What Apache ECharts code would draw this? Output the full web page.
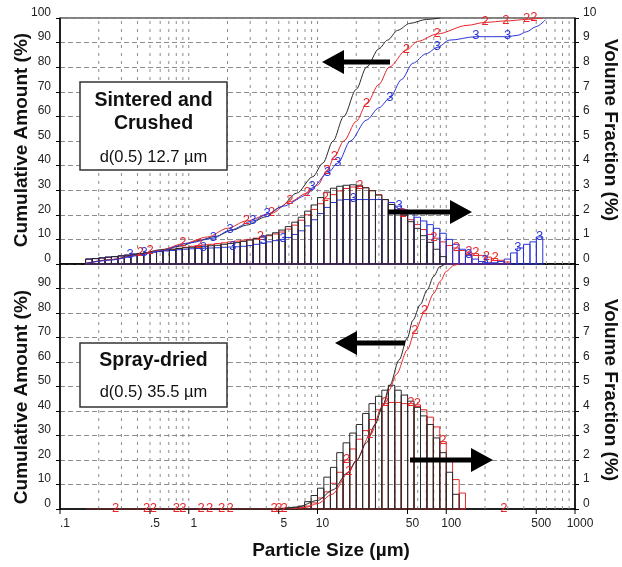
<!DOCTYPE html>
<html>
<head>
<meta charset="utf-8">
<script src="https://cdn.jsdelivr.net/npm/echarts@6/dist/echarts.min.js"></script>
<style>
  html, body { margin: 0; padding: 0; background: #fff; }
  #chart { width: 622px; height: 567px; }
</style>
</head>
<body>
<div id="chart"></div>
<script>
// Size class edges (µm), 20 classes per decade from 0.1 to 1000
const sizeClasses = [
  0.1, 0.112, 0.126, 0.141, 0.158, 0.178, 0.2, 0.224, 0.251, 0.282, 0.316, 0.355, 0.398, 0.447, 0.501, 0.562, 0.631, 0.708, 0.794, 0.891,
  1, 1.12, 1.26, 1.41, 1.58, 1.78, 2, 2.24, 2.51, 2.82, 3.16, 3.55, 3.98, 4.47, 5.01, 5.62, 6.31, 7.08, 7.94, 8.91,
  10, 11.2, 12.6, 14.1, 15.8, 17.8, 20, 22.4, 25.1, 28.2, 31.6, 35.5, 39.8, 44.7, 50.1, 56.2, 63.1, 70.8, 79.4, 89.1,
  100, 112, 126, 141, 158, 178, 200, 224, 251, 282, 316, 355, 398, 447, 501, 562, 631, 708, 794, 891,
  1000
];

// Volume fraction (%) per size class — sintered and crushed powder, runs 1-3
const sinteredVol1 = [
  0, 0, 0, 0, 0.20, 0.22, 0.25, 0.28, 0.30, 0.33, 0.36, 0.40, 0.43, 0.47, 0.50, 0.53, 0.57, 0.60, 0.63, 0.66,
  0.68, 0.70, 0.72, 0.74, 0.76, 0.80, 0.83, 0.87, 0.92, 0.97, 1.03, 1.10, 1.18, 1.27, 1.38, 1.52, 1.70, 1.90, 2.15, 2.40,
  2.70, 2.92, 3.08, 3.16, 3.20, 3.22, 3.20, 3.10, 2.98, 2.80, 2.62, 2.42, 2.20, 1.98, 1.72, 1.45, 1.15, 0.88, 0.60, 0.30,
  0, 0, 0, 0, 0, 0, 0, 0, 0, 0, 0, 0, 0, 0, 0, 0, 0, 0, 0, 0
];
const sinteredVol2 = [
  0, 0, 0, 0, 0.20, 0.22, 0.24, 0.27, 0.30, 0.33, 0.36, 0.40, 0.43, 0.47, 0.50, 0.53, 0.57, 0.60, 0.64, 0.68,
  0.72, 0.75, 0.78, 0.80, 0.83, 0.86, 0.90, 0.93, 0.97, 1.00, 1.05, 1.10, 1.15, 1.22, 1.30, 1.42, 1.58, 1.78, 2.00, 2.22,
  2.45, 2.65, 2.82, 2.97, 3.07, 3.13, 3.15, 3.10, 2.98, 2.82, 2.62, 2.42, 2.20, 2.00, 1.80, 1.60, 1.40, 1.20, 1.05, 0.90,
  0.75, 0.65, 0.55, 0.48, 0.42, 0.35, 0.28, 0.22, 0.15, 0.08, 0, 0, 0, 0, 0, 0, 0, 0, 0, 0
];
const sinteredVol3 = [
  0, 0, 0, 0, 0.20, 0.22, 0.25, 0.28, 0.30, 0.33, 0.36, 0.40, 0.42, 0.45, 0.48, 0.50, 0.53, 0.55, 0.58, 0.60,
  0.62, 0.63, 0.64, 0.65, 0.66, 0.68, 0.69, 0.70, 0.72, 0.75, 0.80, 0.85, 0.90, 0.95, 1.00, 1.08, 1.20, 1.35, 1.55, 1.80,
  2.05, 2.30, 2.50, 2.60, 2.62, 2.62, 2.62, 2.62, 2.62, 2.62, 2.62, 2.50, 2.35, 2.20, 2.05, 1.90, 1.75, 1.60, 1.45, 1.25,
  1.00, 0.80, 0.60, 0.35, 0.20, 0.10, 0.05, 0.05, 0.10, 0.20, 0.45, 0.65, 0.80, 0.90, 1.10, 0, 0, 0, 0, 0
];

// Volume fraction (%) per size class — spray-dried powder, runs 1-2
const sprayVol1 = [
  0, 0, 0, 0, 0, 0, 0, 0, 0, 0, 0, 0, 0, 0, 0, 0, 0, 0, 0, 0,
  0, 0, 0, 0, 0, 0, 0, 0, 0, 0, 0, 0, 0, 0.02, 0.03, 0.05, 0.07, 0.12, 0.30, 0.55,
  0.85, 1.30, 1.70, 2.30, 2.70, 3.10, 3.45, 3.90, 4.30, 4.60, 4.85, 5.05, 4.85, 4.65, 4.40, 4.15, 3.80, 3.45, 2.90, 2.30,
  1.50, 0.60, 0, 0, 0, 0, 0, 0, 0, 0, 0, 0, 0, 0, 0, 0, 0, 0, 0, 0
];
const sprayVol2 = [
  0, 0, 0, 0, 0, 0, 0, 0, 0, 0, 0, 0, 0, 0, 0, 0, 0, 0, 0, 0,
  0, 0, 0, 0, 0, 0, 0, 0, 0, 0, 0, 0, 0, 0, 0, 0, 0, 0.05, 0.12, 0.25,
  0.45, 0.70, 1.05, 1.50, 2.00, 2.45, 2.85, 3.20, 3.65, 4.05, 4.30, 4.35, 4.35, 4.30, 4.30, 4.25, 4.05, 3.75, 3.35, 2.75,
  1.95, 1.20, 0.65, 0, 0, 0, 0, 0, 0, 0, 0, 0, 0, 0, 0, 0, 0, 0, 0, 0
];

// Cumulative amount (%) against particle size (µm)
const sinteredCum1 = [[0.16,0.3],[0.25,1.8],[0.4,3.8],[0.6,5.8],[0.85,7.2],[1.2,9.6],[1.6,11.2],[2.2,13.8],[2.8,15.8],[4,19.2],[5.1,23],[6.9,28.8],[9.2,35.5],[11,41],[13.2,50],[16,60],[20,71],[24,80],[30,87.5],[35,91],[42,95],[52,97.8],[70,99.4],[90,100]];
const sinteredCum2 = [[0.16,0.3],[0.25,1.7],[0.4,3.6],[0.6,5.5],[0.9,8.2],[1.4,11],[2,14.5],[2.8,17.5],[4.4,20.6],[6.1,25.3],[8.3,28.8],[10,32],[11.8,37.5],[13.5,43.5],[16,50],[20,58],[24,65],[30,73],[36,80],[49,87],[60,90.5],[85,93.5],[145,97],[200,98.2],[290,98.8],[420,99.4],[560,100]];
const sinteredCum3 = [[0.16,0.3],[0.25,1.6],[0.4,3.4],[0.6,5.3],[1,8.5],[1.55,10.5],[2.1,13.8],[3.15,17.5],[4.06,20.3],[5.4,23.5],[8.3,28],[9.1,31],[12,37],[14.4,41],[18,50],[24,58.5],[30,63.5],[36.5,67.5],[45,75],[55,81.6],[70,85.5],[85,88],[106,91],[170,92.4],[300,92.4],[360,93],[420,94.4],[500,96.5],[590,99.3]];
const sprayCum1 = [[0.16,0],[5,0],[7,0.8],[10,3.5],[13.2,7.8],[17,14.7],[20,19.5],[24,27],[28,34.5],[32,41.8],[36.5,50.6],[43,60.8],[50,70],[55,77],[63,83.5],[71,89.4],[80,95],[89,98.9],[98,100]];
const sprayCum2 = [[0.16,0],[6,0],[8,0.6],[10,2.2],[13,6],[17.5,15],[20,20],[25.5,30],[32,42],[36,48.5],[41,55],[50,65],[57,72.4],[68,80.5],[80,88],[90,93],[100,97],[115,99.5],[125,100]];

// Run-number markers: [size µm, cumulative %] and [size µm, volume %]
const sinteredMarks2Cum = [[0.9,8.2],[2.8,17.5],[4.4,20.6],[6.1,25.3],[8.3,28.8],[11.8,37.5],[13.5,43.5],[24,65],[49,87],[85,93.5],[200,98.2],[290,98.8],[420,99.4],[480,99.7]];
const sinteredMarks2Vol = [[0.42,0.43],[0.5,0.5],[1.2,0.75],[3.6,1.1],[11.5,2.65],[21.3,3.15],[46,2.0],[80,1.05],[120,0.65],[150,0.48],[170,0.42],[205,0.28],[240,0.22]];
const sinteredMarks3Cum = [[1.55,10.5],[2.1,13.8],[3.15,17.5],[4.06,20.3],[9.1,31],[12,37],[14.4,41],[36.5,67.5],[85,88],[170,92.4],[300,92.4]];
const sinteredMarks3Vol = [[0.35,0.36],[0.45,0.45],[1.3,0.64],[2.2,0.69],[3.8,0.9],[5.4,1.0],[19,2.62],[43,2.35],[150,0.35],[200,0.1],[360,0.65],[530,1.1]];
const sprayMarks2Cum = [[17.5,15],[25.5,30],[57,72.4],[68,80.5]];
const sprayMarks2Vol = [[0.27,0],[0.47,0],[0.53,0],[0.8,0],[0.9,0],[1.25,0],[1.45,0],[1.8,0],[2.1,0],[4.6,0],[5.0,0],[5.5,0],[16.8,2.0],[33.5,4.3],[53,4.3],[59.6,4.25],[94,2.75],[280,0]];

// Size axis ticks and grid positions
const sizeTicks = [0.1, 0.5, 1, 5, 10, 50, 100, 500, 1000];
const sizeTickLabels = ['.1', '.5', '1', '5', '10', '50', '100', '500', '1000'];
const sizeGridLines = [0.2,0.3,0.4,0.5,0.6,0.7,0.8,0.9,1,2,3,4,5,6,7,8,9,10,20,30,40,50,60,70,80,90,100,200,300,400,500,600,700,800,900];

const FONT = '"Liberation Sans", Arial, Helvetica, sans-serif';
const BLACK = '#2a2a2a', RED = '#e8262a', BLUE = '#2a35d8';

const chart = echarts.init(document.getElementById('chart'), null, { renderer: 'canvas' });

function histSeries(values, color, xi, yi, z) {
  const data = [];
  values.forEach((v, i) => { if (v > 0) data.push([sizeClasses[i], sizeClasses[i + 1], v]); });
  return {
    type: 'custom', xAxisIndex: xi, yAxisIndex: yi, z: z, silent: true, data: data,
    encode: { x: [0, 1], y: 2 },
    renderItem: (params, api) => {
      const p0 = api.coord([api.value(0), api.value(2)]);
      const p1 = api.coord([api.value(1), 0]);
      return {
        type: 'rect',
        shape: { x: p0[0], y: p0[1], width: p1[0] - p0[0], height: p1[1] - p0[1] },
        style: { fill: 'rgba(0,0,0,0)', stroke: color, lineWidth: 1 }
      };
    }
  };
}

function cumSeries(points, color, xi, yi, z) {
  return {
    type: 'line', xAxisIndex: xi, yAxisIndex: yi, z: z, silent: true,
    data: points, showSymbol: false, smooth: 0.3, smoothMonotone: 'x',
    lineStyle: { color: color, width: 1 }
  };
}

function markSeries(points, text, color, xi, yi) {
  return {
    type: 'custom', xAxisIndex: xi, yAxisIndex: yi, z: 8, silent: true, data: points,
    renderItem: (params, api) => {
      const p = api.coord([api.value(0), api.value(1)]);
      return {
        type: 'text', x: p[0], y: p[1] - 1,
        style: { text: text, fill: color, font: '13px ' + FONT, align: 'center', verticalAlign: 'middle' }
      };
    }
  };
}

function gridLineSeries(xi, yi) {
  return {
    type: 'custom', xAxisIndex: xi, yAxisIndex: yi, z: 1, silent: true, data: sizeGridLines,
    renderItem: (params, api) => {
      const a = api.coord([api.value(0), 0]);
      const b = api.coord([api.value(0), 100]);
      return {
        type: 'line', shape: { x1: a[0], y1: a[1], x2: b[0], y2: b[1] },
        style: { stroke: '#8c8c8c', lineWidth: 1, lineDash: [3, 5] }
      };
    }
  };
}

const sizeTickSeries = {
  type: 'custom', xAxisIndex: 1, yAxisIndex: 2, z: 9, silent: true, data: sizeTicks,
  renderItem: (params, api) => {
    const p = api.coord([api.value(0), 0]);
    return {
      type: 'group',
      children: [
        { type: 'line', shape: { x1: p[0], y1: p[1], x2: p[0], y2: p[1] + 5 }, style: { stroke: '#000', lineWidth: 1 } },
        { type: 'text', x: p[0] + 5, y: p[1] + 15,
          style: { text: sizeTickLabels[params.dataIndex], fill: '#222', font: '12px ' + FONT, align: 'center', verticalAlign: 'middle' } }
      ]
    };
  }
};

function xAxis(gi) {
  return {
    gridIndex: gi, type: 'log', logBase: 10, min: 0.1, max: 1000,
    axisLine: { show: true, onZero: false, lineStyle: { color: '#000', width: 1.5 } },
    axisTick: { show: false }, axisLabel: { show: false }, splitLine: { show: false }
  };
}

function yAxis(gi, side, max, interval, hideMax) {
  const left = side === 'left';
  return {
    gridIndex: gi, type: 'value', position: side, min: 0, max: max, interval: interval,
    axisLine: { show: true, lineStyle: { color: '#000', width: 1.5 } },
    axisTick: { show: true, length: 4, lineStyle: { color: '#000' } },
    axisLabel: {
      color: '#222', fontSize: 12, fontFamily: FONT, margin: left ? 9 : 8,
      verticalAlign: 'bottom', lineHeight: 11,
      formatter: v => (hideMax && v === max) ? '' : String(v)
    },
    splitLine: left ? { show: true, lineStyle: { color: '#8c8c8c', width: 1, type: [5, 3] } } : { show: false }
  };
}

function arrow(tipX, tailX, y) {
  const dir = tailX > tipX ? 1 : -1;
  const hl = 22, hw = 12, sw = 2.4;
  const bx = tipX + dir * hl;
  return {
    type: 'polygon', z: 100,
    shape: { points: [[tipX, y], [bx, y - hw], [bx, y - sw], [tailX, y - sw], [tailX, y + sw], [bx, y + sw], [bx, y + hw]] },
    style: { fill: '#000' }
  };
}

function label(x, y, text, font, rot) {
  return {
    type: 'text', x: x, y: y, z: 101, rotation: rot || 0,
    style: { text: text, font: font, fill: '#111', align: 'center', verticalAlign: 'middle' }
  };
}

const titleFont = 'bold 19px ' + FONT;

chart.setOption({
  animation: false,
  backgroundColor: '#fff',
  grid: [
    { left: 60, top: 18, width: 515, height: 246, show: true, borderColor: '#000', borderWidth: 1, backgroundColor: 'rgba(0,0,0,0)' },
    { left: 60, top: 264, width: 515, height: 245, show: true, borderColor: '#000', borderWidth: 1, backgroundColor: 'rgba(0,0,0,0)' }
  ],
  xAxis: [xAxis(0), xAxis(1)],
  yAxis: [
    yAxis(0, 'left', 100, 10, false),
    yAxis(0, 'right', 10, 1, false),
    yAxis(1, 'left', 100, 10, true),
    yAxis(1, 'right', 10, 1, true)
  ],
  series: [
    gridLineSeries(0, 0),
    gridLineSeries(1, 2),
    histSeries(sinteredVol2, RED, 0, 1, 3),
    histSeries(sinteredVol3, BLUE, 0, 1, 3),
    histSeries(sinteredVol1, BLACK, 0, 1, 4),
    histSeries(sprayVol2, RED, 1, 3, 3),
    histSeries(sprayVol1, BLACK, 1, 3, 4),
    cumSeries(sinteredCum1, BLACK, 0, 0, 6),
    cumSeries(sinteredCum2, RED, 0, 0, 6),
    cumSeries(sinteredCum3, BLUE, 0, 0, 6),
    cumSeries(sprayCum2, RED, 1, 2, 6),
    cumSeries(sprayCum1, BLACK, 1, 2, 6),
    markSeries(sinteredMarks2Cum, '2', RED, 0, 0),
    markSeries(sinteredMarks2Vol, '2', RED, 0, 1),
    markSeries(sinteredMarks3Cum, '3', BLUE, 0, 0),
    markSeries(sinteredMarks3Vol, '3', BLUE, 0, 1),
    markSeries(sprayMarks2Cum, '2', RED, 1, 2),
    markSeries(sprayMarks2Vol, '2', RED, 1, 3),
    sizeTickSeries
  ],
  graphic: [
    // Sample boxes
    { type: 'rect', z: 99, shape: { x: 80, y: 82, width: 147, height: 88 }, style: { fill: '#fff', stroke: '#333', lineWidth: 1.5 } },
    label(153.5, 101, 'Sintered and', 'bold 19.5px ' + FONT),
    label(153.5, 124, 'Crushed', 'bold 19.5px ' + FONT),
    label(153.5, 157, 'd(0.5) 12.7 µm', '16.5px ' + FONT),
    { type: 'rect', z: 99, shape: { x: 80, y: 343, width: 147, height: 64 }, style: { fill: '#fff', stroke: '#333', lineWidth: 1.5 } },
    label(153.5, 361, 'Spray-dried', 'bold 19.5px ' + FONT),
    label(153.5, 392, 'd(0.5) 35.5 µm', '16.5px ' + FONT),
    // Axis side arrows
    arrow(322, 390, 62),
    arrow(472, 388, 212),
    arrow(335, 405, 343),
    arrow(493, 410, 460),
    // Axis titles
    label(22, 140, 'Cumulative Amount (%)', titleFont, Math.PI / 2),
    label(22, 397, 'Cumulative Amount (%)', titleFont, Math.PI / 2),
    label(610, 130, 'Volume Fraction (%)', titleFont, -Math.PI / 2),
    label(610, 390, 'Volume Fraction (%)', titleFont, -Math.PI / 2),
    label(331, 551, 'Particle Size (µm)', titleFont)
  ]
});
</script>
</body>
</html>
